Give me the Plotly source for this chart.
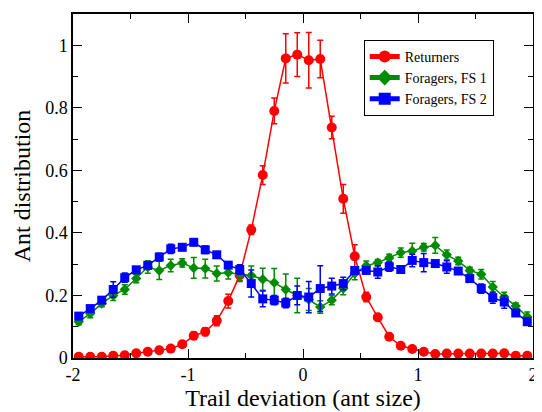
import plotly.graph_objects as go

x_centers = [-1.95, -1.85, -1.75, -1.65, -1.55, -1.45, -1.35, -1.25, -1.15, -1.05,
             -0.95, -0.85, -0.75, -0.65, -0.55, -0.45, -0.35, -0.25, -0.15, -0.05,
             0.05, 0.15, 0.25, 0.35, 0.45, 0.55, 0.65, 0.75, 0.85, 0.95,
             1.05, 1.15, 1.25, 1.35, 1.45, 1.55, 1.65, 1.75, 1.85, 1.95]

returners = [0.004, 0.004, 0.004, 0.007, 0.009, 0.015, 0.020, 0.025, 0.030, 0.044,
             0.071, 0.084, 0.119, 0.182, 0.265, 0.410, 0.585, 0.790, 0.958, 0.970,
             0.952, 0.956, 0.737, 0.509, 0.325, 0.195, 0.130, 0.068, 0.039, 0.029,
             0.020, 0.013, 0.014, 0.014, 0.014, 0.014, 0.014, 0.015, 0.007, 0.007]
returners_err = [0.002, 0.002, 0.002, 0.002, 0.002, 0.003, 0.003, 0.004, 0.005, 0.008,
                 0.012, 0.013, 0.016, 0.022, 0.020, 0.015, 0.030, 0.041, 0.079, 0.070,
                 0.089, 0.060, 0.036, 0.046, 0.037, 0.015, 0.008, 0.004, 0.003, 0.003,
                 0.003, 0.003, 0.003, 0.003, 0.003, 0.003, 0.003, 0.003, 0.003, 0.003]

fs1 = [0.116, 0.142, 0.174, 0.200, 0.219, 0.254, 0.291, 0.280, 0.296, 0.304,
       0.288, 0.286, 0.270, 0.273, 0.268, 0.264, 0.252, 0.241, 0.219, 0.200,
       0.187, 0.163, 0.185, 0.222, 0.270, 0.295, 0.305, 0.320, 0.337, 0.342,
       0.354, 0.360, 0.330, 0.310, 0.280, 0.268, 0.227, 0.195, 0.166, 0.132]
fs1_err = [0.010, 0.013, 0.010, 0.016, 0.015, 0.013, 0.020, 0.029, 0.020, 0.013,
           0.033, 0.030, 0.024, 0.020, 0.020, 0.030, 0.035, 0.045, 0.050, 0.055,
           0.035, 0.020, 0.015, 0.020, 0.020, 0.015, 0.010, 0.012, 0.015, 0.025,
           0.012, 0.025, 0.015, 0.012, 0.010, 0.015, 0.018, 0.015, 0.010, 0.015]

fs2 = [0.134, 0.158, 0.185, 0.219, 0.257, 0.282, 0.296, 0.323, 0.349, 0.354,
       0.370, 0.346, 0.330, 0.297, 0.283, 0.238, 0.189, 0.185, 0.176, 0.200,
       0.195, 0.222, 0.230, 0.238, 0.280, 0.280, 0.275, 0.292, 0.283, 0.312,
       0.305, 0.302, 0.291, 0.278, 0.254, 0.222, 0.193, 0.179, 0.144, 0.116]
fs2_err = [0.008, 0.008, 0.010, 0.025, 0.015, 0.010, 0.010, 0.012, 0.015, 0.010,
           0.010, 0.012, 0.010, 0.010, 0.015, 0.043, 0.025, 0.015, 0.015, 0.030,
           0.050, 0.073, 0.025, 0.020, 0.010, 0.010, 0.020, 0.015, 0.012, 0.020,
           0.029, 0.010, 0.020, 0.010, 0.010, 0.015, 0.018, 0.020, 0.010, 0.010]

x_tickvals = [-2, -1, 0, 1, 2]
x_ticktext = ["-2", "-1", "0", "1", "2"]
y_tickvals = [0, 0.2, 0.4, 0.6, 0.8, 1.0]
y_ticktext = ["0", "0.2", "0.4", "0.6", "0.8", "1"]

FONT = "Liberation Serif"

fig = go.Figure()

series = [
    ("Returners", returners, returners_err, "#ff0000", "circle", 10),
    ("Foragers, FS 1", fs1, fs1_err, "#008b00", "diamond", 8),
    ("Foragers, FS 2", fs2, fs2_err, "#0000ff", "square", 9),
]
for name, ys, es, col, sym, size in series:
    fig.add_trace(go.Scatter(
        x=x_centers, y=ys, name=name, mode="lines+markers",
        line=dict(color=col, width=1.5),
        marker=dict(color=col, symbol=sym, size=size, line=dict(width=0)),
        error_y=dict(type="data", array=es, visible=True, color=col,
                     thickness=1.5, width=3),
    ))

axis_common = dict(
    showline=True, linecolor="black", linewidth=1.5, mirror="ticks",
    ticks="inside", ticklen=9, tickwidth=1.2, tickcolor="black",
    showgrid=False, zeroline=False,
    tickfont=dict(family=FONT, size=18, color="black"),
)

# the page body adds an 8px offset, so the figure is sized to fit the window
fig.update_layout(
    width=534, height=404,
    margin=dict(l=65, r=5, t=4, b=54),
    paper_bgcolor="white", plot_bgcolor="white",
    font=dict(family=FONT, color="black"),
    showlegend=True,
    legend=dict(
        x=0.632, y=0.925, xanchor="left", yanchor="top",
        bordercolor="black", borderwidth=1, bgcolor="white",
        font=dict(family=FONT, size=14, color="black"),
        tracegroupgap=0, itemsizing="constant",
    ),
    xaxis=dict(
        range=[-2, 2], tickvals=x_tickvals, ticktext=x_ticktext,
        title=dict(text="Trail deviation (ant size)", font=dict(family=FONT, size=24), standoff=4),
        minor=dict(dtick=0.5, tick0=0, ticks="inside", ticklen=5, tickcolor="black", tickwidth=1.2),
        **axis_common,
    ),
    yaxis=dict(
        range=[0, 1.1], tickvals=y_tickvals, ticktext=y_ticktext,
        title=dict(text="Ant distribution", font=dict(family=FONT, size=24), standoff=8),
        minor=dict(dtick=0.1, tick0=0, ticks="inside", ticklen=5, tickcolor="black", tickwidth=1.2),
        **axis_common,
    ),
)

fig.write_html("out.html")
